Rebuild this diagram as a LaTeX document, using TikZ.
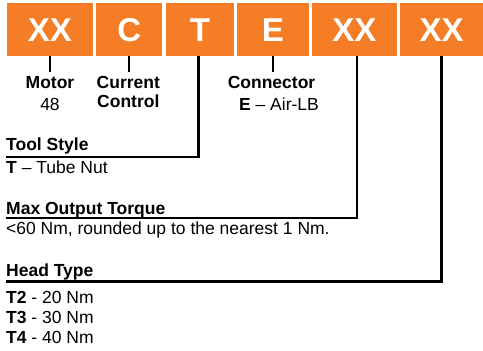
\documentclass[tikz,border=0pt]{standalone}
\usepackage{fontspec}
\setmainfont{Liberation Sans}
\definecolor{codeorange}{RGB}{244,125,38}
\begin{document}
\begin{tikzpicture}[x=1pt,y=-1pt,
  codebox/.style={fill=codeorange, text=white, font=\fontsize{33}{33}\selectfont\bfseries,
    minimum height=53pt, inner sep=0pt, anchor=north west},
  lbl/.style={inner sep=0pt, font=\fontsize{17.5}{20}\selectfont},
  conn/.style={line width=2.5pt},
  tick/.style={line width=2.2pt}]
\useasboundingbox (0,0) rectangle (483,351);
% code boxes
\node[codebox, minimum width=85.5pt] (b1) at (7,3) {XX};
\node[codebox, minimum width=66pt] (b2) at (96,3) {C};
\node[codebox, minimum width=67.5pt] (b3) at (166,3) {T};
\node[codebox, minimum width=71.5pt] (b4) at (237,3) {E};
\node[codebox, minimum width=84.5pt] (b5) at (312,3) {XX};
\node[codebox, minimum width=83pt] (b6) at (400,3) {XX};
% upper labels
\node[lbl, anchor=base] (motor) at (50,88.3) {\textbf{Motor}};
\node[lbl, anchor=base] (motorv) at (50,110) {48};
\node[lbl, anchor=base] (cur) at (128.3,88.3) {\textbf{Current}};
\node[lbl, anchor=base] (curc) at (128.3,107.7) {\textbf{Control}};
\node[lbl, anchor=base] (con) at (271.5,88.3) {\textbf{Connector}};
\node[lbl, anchor=base] (cone) at (279,110) {\textbf{E} -- Air-LB};
% ticks
\draw[tick] (b1.south) -- ++(0,16);
\draw[tick] (b2.south) -- ++(0,16);
\draw[tick] (b4.south) -- ++(0,16);
% lower labels
\node[lbl, anchor=base west] (ts) at (6,150.7) {\textbf{Tool Style}};
\node[lbl, anchor=base west] (tsv) at (6,173.3) {\textbf{T} -- Tube Nut};
\node[lbl, anchor=base west] (mt) at (6,214.5) {\textbf{Max Output Torque}};
\node[lbl, anchor=base west] (mtv) at (6,234) {<60 Nm, rounded up to the nearest 1 Nm.};
\node[lbl, anchor=base west] (ht) at (6,276.7) {\textbf{Head Type}};
\node[lbl, anchor=base west] (t2) at (6,303.3) {\textbf{T2} - 20 Nm};
\node[lbl, anchor=base west] (t3) at (6,323.3) {\textbf{T3} - 30 Nm};
\node[lbl, anchor=base west] (t4) at (6,343.3) {\textbf{T4} - 40 Nm};
% connectors
\coordinate (tsL) at (6,157);
\coordinate (mtL) at (6,218);
\coordinate (htL) at (6,281.5);
\draw[conn] ([xshift=-1.5pt]b3.south) |- (tsL);
\draw[conn] ([xshift=2.5pt]b5.south) |- (mtL);
\draw[conn] (b6.south) |- (htL);
\end{tikzpicture}
\end{document}
